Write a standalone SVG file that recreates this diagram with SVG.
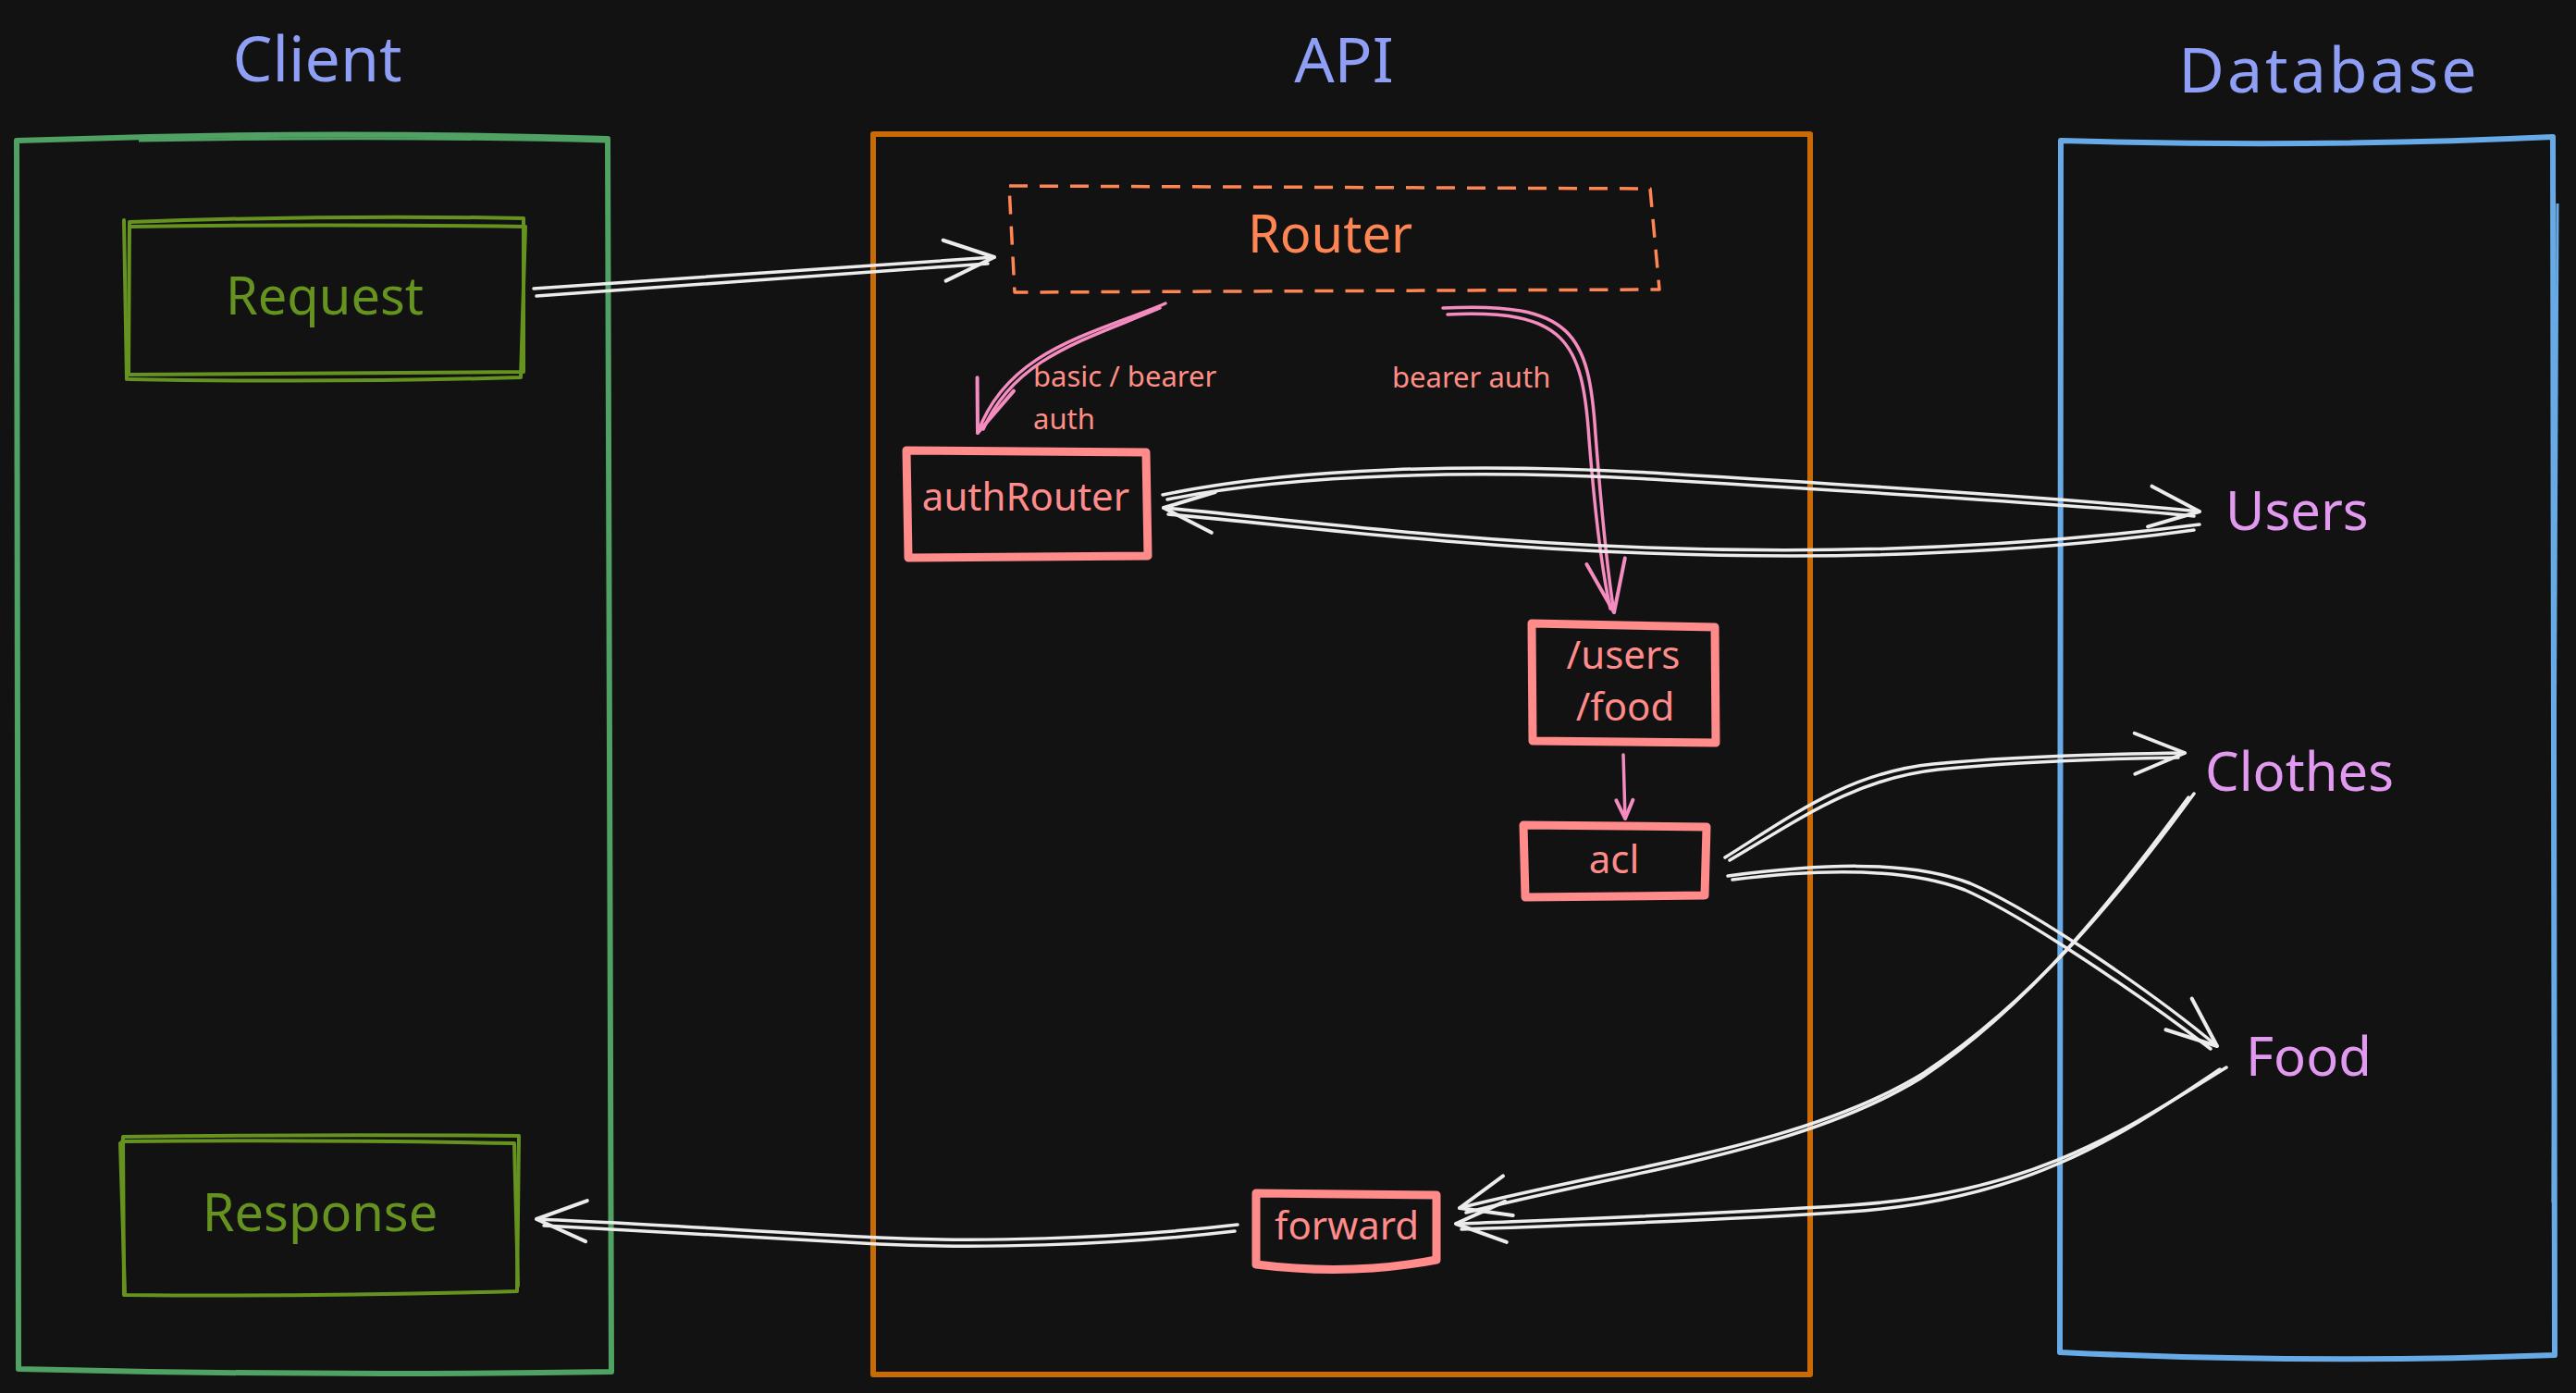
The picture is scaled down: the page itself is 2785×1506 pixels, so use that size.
<svg xmlns="http://www.w3.org/2000/svg" width="2785" height="1506" viewBox="0 0 2785 1506">
<defs>
<style>
.bg{fill:#121212}
.t{font-family:"Noto Sans","DejaVu Sans",sans-serif;text-anchor:middle}
.title{font-size:68px;fill:#8e9ff5}
.green{font-size:56px;fill:#66931f}
.node{font-size:42px;fill:#ff8b8b}
.ent{font-size:58px;fill:#e29af1;text-anchor:start}
.lbl{font-family:"Noto Sans","DejaVu Sans",sans-serif;font-size:31px;fill:#ff8f86}
.box{fill:none;stroke:#ff8b8b;stroke-width:9;stroke-linejoin:round;stroke-linecap:round}
.gbox{fill:none;stroke:#66931f;stroke-width:4;stroke-linejoin:round;stroke-linecap:round}
.w{fill:none;stroke:#ececec;stroke-width:3.5;stroke-linecap:round;stroke-linejoin:round}
.p{fill:none;stroke:#f58cc0;stroke-width:3.5;stroke-linecap:round;stroke-linejoin:round}
</style>
<marker id="aw" markerUnits="userSpaceOnUse" markerWidth="70" markerHeight="60" viewBox="0 0 70 60" refX="60" refY="30" orient="auto">
<path d="M6,8 L60,30 L6,52" fill="none" stroke="#ececec" stroke-width="4" stroke-linecap="round" stroke-linejoin="round"/>
</marker>
<marker id="ap" markerUnits="userSpaceOnUse" markerWidth="70" markerHeight="60" viewBox="0 0 70 60" refX="60" refY="30" orient="auto">
<path d="M4,9 L60,30 L4,51" fill="none" stroke="#f58cc0" stroke-width="4" stroke-linecap="round" stroke-linejoin="round"/>
</marker>
<marker id="aps" markerUnits="userSpaceOnUse" markerWidth="30" markerHeight="30" viewBox="0 0 30 30" refX="26" refY="15" orient="auto">
<path d="M6,6 L26,15 L6,24" fill="none" stroke="#f58cc0" stroke-width="4" stroke-linecap="round" stroke-linejoin="round"/>
</marker>
</defs>
<rect class="bg" x="0" y="0" width="2785" height="1506"/>

<g id="client">
<text class="t title" x="343" y="88">Client</text>
<path d="M18,152 Q340,140 657,150 L661,1483 Q340,1488 20,1480 Z" fill="none" stroke="#4fa263" stroke-width="6" stroke-linejoin="round"/>
<path d="M150,152 Q420,147 655,153" fill="none" stroke="#4fa263" stroke-width="3"/>
</g>

<g id="api">
<text class="t title" x="1453" y="89">API</text>
<rect x="944" y="145" width="1013" height="1341" fill="none" stroke="#c96a04" stroke-width="6" stroke-linejoin="round"/>
</g>

<g id="database">
<text class="t title" x="2518" y="100" letter-spacing="3">Database</text>
<path d="M2228,152 Q2500,160 2760,148 L2762,1465 Q2500,1475 2227,1462 Z" fill="none" stroke="#67aae6" stroke-width="6" stroke-linejoin="round"/>
<path d="M2765,220 L2760,1300" fill="none" stroke="#67aae6" stroke-width="3"/>
</g>

<g id="request">
<path class="gbox" d="M140,240 Q360,232 566,236 L566,402 Q360,404 139,405 Z"/>
<path class="gbox" d="M134,238 L137,410 M142,245 Q350,242 568,245 L563,408 M140,410 Q360,414 562,408"/>
<text class="t green" x="351" y="340">Request</text>
</g>

<g id="response">
<path class="gbox" d="M133,1229 Q350,1226 561,1228 L559,1396 Q350,1402 134,1400 Z"/>
<path class="gbox" d="M130,1236 L135,1398 M132,1234 Q350,1232 556,1236 L560,1390"/>
<text class="t green" x="346" y="1331">Response</text>
</g>

<g id="router">
<path d="M1091,201 L1784,204 L1794,313 L1097,316 Z" fill="none" stroke="#ff8552" stroke-width="3.5" stroke-dasharray="20 13" stroke-linejoin="round"/>
<text class="t" x="1438" y="273" font-size="56" fill="#ff8552">Router</text>
</g>

<g id="authRouter">
<path class="box" d="M980,487 L1239,489 L1241,601 L982,603 Z"/>
<text class="t node" x="1109" y="552">authRouter</text>
</g>

<g id="usersFood">
<path class="box" d="M1656,674 L1854,678 L1855,803 L1657,801 Z"/>
<text class="t node" font-size="40"><tspan x="1755" y="723">/users</tspan><tspan x="1757" y="779">/food</tspan></text>
</g>

<g id="acl">
<path class="box" d="M1647,892 L1845,894 L1843,968 L1649,970 Z"/>
<text class="t node" x="1745" y="944">acl</text>
</g>

<g id="forward">
<path class="box" d="M1358,1290 L1553,1292 L1553,1362 Q1460,1380 1358,1367 Z"/>
<text class="t node" x="1456" y="1340">forward</text>
</g>

<g id="users">
<text class="t ent" x="2406" y="573">Users</text>
</g>
<g id="clothes">
<text class="t ent" x="2384" y="855">Clothes</text>
</g>
<g id="food">
<text class="t ent" x="2428" y="1163">Food</text>
</g>

<g id="connectors">
<!-- Request -> Router -->
<path class="w" d="M577,312 L1075,278" marker-end="url(#aw)"/>
<path class="w" d="M580,320 L1068,285"/>
<!-- Router -> authRouter -->
<path class="p" d="M1260,328 C1180,362 1090,378 1057,468" marker-end="url(#ap)"/>
<path class="p" d="M1254,333 C1172,368 1098,386 1063,464"/>
<!-- Router -> /users /food -->
<path class="p" d="M1560,333 C1700,326 1718,360 1725,470 Q1735,600 1745,662" marker-end="url(#ap)"/>
<path class="p" d="M1565,340 C1692,334 1711,368 1718,475 Q1728,600 1741,658"/>
<!-- /users /food -> acl -->
<path class="p" d="M1755,816 L1757,885" marker-end="url(#aps)"/>
<!-- authRouter -> Users -->
<path class="w" d="M1257,535 C1400,505 1600,500 1800,512 S2250,540 2378,553" marker-end="url(#aw)"/>
<path class="w" d="M1262,540 C1400,512 1600,507 1800,519 S2250,546 2372,558"/>
<!-- Users -> authRouter -->
<path class="w" d="M2378,567 C2200,590 2000,600 1780,592 S1400,562 1258,549" marker-end="url(#aw)"/>
<path class="w" d="M2372,573 C2200,597 2000,606 1780,598 S1400,568 1263,556"/>
<!-- acl -> Clothes -->
<path class="w" d="M1865,927 C1940,880 2000,835 2090,826 C2180,817 2290,815 2362,814" marker-end="url(#aw)"/>
<path class="w" d="M1870,930 C1945,886 2005,842 2095,832 C2185,823 2290,820 2355,819"/>
<!-- acl -> Food -->
<path class="w" d="M1868,947 C1960,935 2060,928 2130,955 C2200,985 2330,1075 2397,1131" marker-end="url(#aw)"/>
<path class="w" d="M1873,951 C1960,940 2055,936 2124,962 C2192,992 2322,1082 2390,1134"/>
<!-- Clothes -> forward -->
<path class="w" d="M2372,858 C2290,970 2200,1080 2080,1160 C1950,1240 1760,1260 1578,1306" marker-end="url(#aw)"/>
<path class="w" d="M2366,862 C2284,974 2195,1086 2076,1166 C1945,1246 1760,1266 1585,1311"/>
<!-- Food -> forward -->
<path class="w" d="M2407,1154 C2300,1220 2200,1290 2000,1303 C1850,1313 1700,1318 1574,1323" marker-end="url(#aw)"/>
<path class="w" d="M2400,1156 C2295,1226 2195,1297 2000,1310 C1850,1320 1700,1325 1580,1329"/>
<!-- forward -> Response -->
<path class="w" d="M1338,1324 C1200,1340 1050,1343 950,1338 C800,1330 680,1322 580,1318" marker-end="url(#aw)"/>
<path class="w" d="M1335,1331 C1200,1347 1050,1350 950,1345 C800,1337 680,1329 588,1325"/>
<text class="lbl"><tspan x="1117" y="418">basic / bearer</tspan><tspan x="1117" y="464">auth</tspan></text>
<text class="lbl" x="1505" y="419">bearer auth</text>
</g>
</svg>
